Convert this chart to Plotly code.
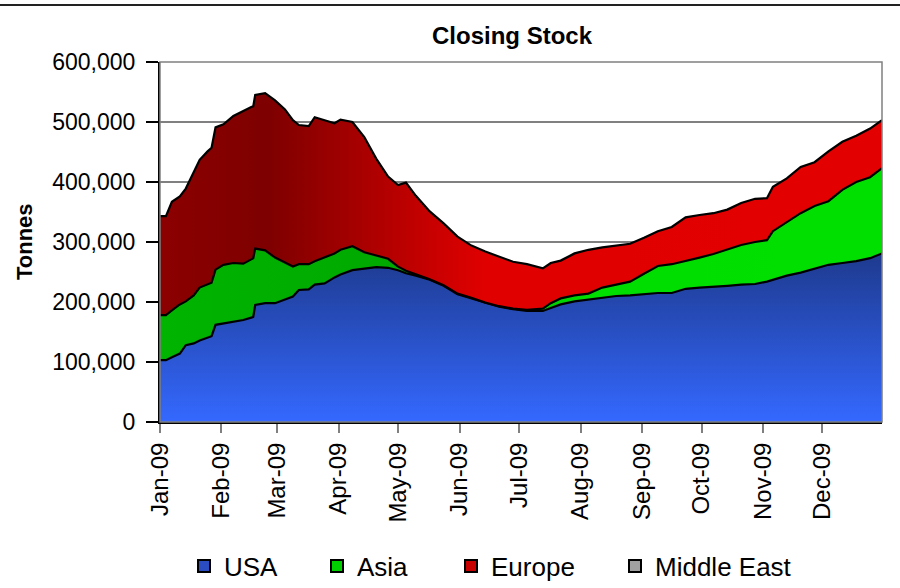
import plotly.graph_objects as go

dates = ["2009-01-01", "2009-01-04", "2009-01-07", "2009-01-11", "2009-01-14", "2009-01-18",
         "2009-01-21", "2009-01-25", "2009-01-27", "2009-01-29", "2009-02-02", "2009-02-07",
         "2009-02-12", "2009-02-16", "2009-02-17", "2009-02-18", "2009-02-23", "2009-02-28",
         "2009-03-05", "2009-03-09", "2009-03-12", "2009-03-17", "2009-03-20", "2009-03-25",
         "2009-03-30", "2009-04-02", "2009-04-08", "2009-04-14", "2009-04-20", "2009-04-26",
         "2009-05-01", "2009-05-05", "2009-05-10", "2009-05-17", "2009-05-24", "2009-05-31",
         "2009-06-07", "2009-06-14", "2009-06-21", "2009-06-28", "2009-07-05", "2009-07-09",
         "2009-07-13", "2009-07-17", "2009-07-22", "2009-07-29", "2009-08-05", "2009-08-12",
         "2009-08-19", "2009-08-26", "2009-09-02", "2009-09-09", "2009-09-16", "2009-09-23",
         "2009-09-30", "2009-10-07", "2009-10-14", "2009-10-21", "2009-10-28", "2009-11-03",
         "2009-11-06", "2009-11-13", "2009-11-20", "2009-11-27", "2009-12-04", "2009-12-11",
         "2009-12-18", "2009-12-25", "2009-12-31"]

usa = [103000, 103000, 108000, 114000, 128000, 131000, 136000, 141000, 143000, 162000,
       164000, 167000, 170000, 174000, 175000, 195000, 198000, 198000, 204000, 209000,
       220000, 221000, 229000, 231000, 241000, 246000, 253000, 255000, 258000, 257000,
       253000, 248000, 244000, 237000, 227000, 213000, 206000, 198000, 192000, 188000,
       185000, 185000, 185000, 190000, 196000, 201000, 204000, 208000, 210000, 211000,
       213000, 215000, 215000, 222000, 224000, 225000, 227000, 229000, 230000, 234000,
       237000, 244000, 249000, 255000, 262000, 265000, 268000, 273000, 281000]

asia = [75000, 75000, 78000, 82000, 73000, 80000, 88000, 89000, 89000, 92000,
        98000, 98000, 94000, 97000, 98000, 94000, 88000, 76000, 61000, 50000,
        43000, 42000, 39000, 43000, 40000, 41000, 40000, 28000, 20000, 15000,
        6000, 4000, 2000, 1000, 1000, 1000, 1000, 1000, 1000, 1000,
        2000, 3000, 4000, 8000, 10000, 10000, 10000, 16000, 19000, 23000,
        34000, 45000, 48000, 46000, 50000, 55000, 61000, 66000, 70000, 69000,
        81000, 89000, 99000, 105000, 106000, 122000, 132000, 135000, 142000]

europe = [165000, 165000, 181000, 180000, 188000, 206000, 213000, 221000, 225000, 237000,
          234000, 245000, 255000, 254000, 253000, 256000, 262000, 262000, 256000, 244000,
          232000, 230000, 240000, 229000, 217000, 217000, 207000, 192000, 161000, 137000,
          136000, 147000, 131000, 113000, 103000, 95000, 87000, 85000, 82000, 78000,
          76000, 71000, 67000, 67000, 63000, 70000, 73000, 67000, 65000, 63000,
          60000, 58000, 62000, 73000, 71000, 68000, 66000, 70000, 72000, 70000,
          74000, 73000, 77000, 73000, 83000, 80000, 77000, 81000, 80000]

middle_east = [0] * len(dates)

series_names = ["USA", "Asia", "Europe", "Middle East"]
month_ticks = ["2009-01-01", "2009-02-01", "2009-03-01", "2009-04-01", "2009-05-01", "2009-06-01",
               "2009-07-01", "2009-08-01", "2009-09-01", "2009-10-01", "2009-11-01", "2009-12-01"]
month_labels = ["Jan-09", "Feb-09", "Mar-09", "Apr-09", "May-09", "Jun-09",
                "Jul-09", "Aug-09", "Sep-09", "Oct-09", "Nov-09", "Dec-09"]
y_ticks = [0, 100000, 200000, 300000, 400000, 500000, 600000]

FONT = "Liberation Sans, Arial, sans-serif"
W, H = 900, 588
L, R, T, B = 160, 18, 62, 166
PW, PH = W - L - R, H - T - B


def px_x(x):
    return (x - L) / PW


def px_y(y):
    return (H - B - y) / PH


fig = go.Figure()

fig.add_trace(go.Scatter(
    x=dates, y=usa, name="USA", stackgroup="s", mode="lines",
    line=dict(color="black", width=2.2),
    fillgradient=dict(type="vertical", colorscale=[[0, "#3468ff"], [1, "#1e3a8e"]]),
    showlegend=False, hoverinfo="x+y"))
fig.add_trace(go.Scatter(
    x=dates, y=asia, name="Asia", stackgroup="s", mode="lines",
    line=dict(color="black", width=2.2),
    fillgradient=dict(type="horizontal", colorscale=[[0, "#00b400"], [0.35, "#00a800"], [0.6, "#00dd00"], [1, "#00e000"]]),
    showlegend=False, hoverinfo="x+y"))
fig.add_trace(go.Scatter(
    x=dates, y=europe, name="Europe", stackgroup="s", mode="lines",
    line=dict(color="black", width=2.2),
    fillgradient=dict(type="horizontal", colorscale=[[0, "#8c0000"], [0.15, "#7e0000"], [0.45, "#e00000"], [1, "#e30000"]]),
    showlegend=False, hoverinfo="x+y"))
fig.add_trace(go.Scatter(
    x=dates, y=middle_east, name="Middle East", stackgroup="s", mode="lines",
    line=dict(color="rgba(0,0,0,0)", width=0), fillcolor="rgba(150,150,150,0.5)",
    showlegend=False, hoverinfo="x+y"))

legend_colors = ["#2a4cc0", "#00d000", "#c80000", "#a0a0a0"]
legend_ids = ["legend", "legend2", "legend3", "legend4"]
legend_left_px = [184, 317, 451, 615]
for name, col, lid in zip(series_names, legend_colors, legend_ids):
    fig.add_trace(go.Scatter(
        x=[None], y=[None], name=name, mode="markers", legend=lid,
        marker=dict(symbol="square", size=15, color=col, line=dict(color="black", width=1.2)),
        showlegend=True))

legend_layout = {}
for lid, lx in zip(legend_ids, legend_left_px):
    legend_layout[lid] = dict(orientation="h", x=px_x(lx), xanchor="left",
                              y=px_y(566), yanchor="middle",
                              font=dict(size=26, family=FONT, color="black"),
                              itemsizing="constant", bgcolor="rgba(0,0,0,0)",
                              borderwidth=0)

# top frame line
fig.add_shape(type="line", xref="paper", yref="paper",
              x0=px_x(0), x1=px_x(W), y0=px_y(5), y1=px_y(5),
              line=dict(color="#222222", width=2))
# plot area border
fig.add_shape(type="rect", xref="paper", yref="paper", x0=0, x1=1, y0=0, y1=1,
              line=dict(color="#808080", width=1.5), layer="above")

fig.add_annotation(text="<b>Tonnes</b>", xref="paper", yref="paper",
                   x=px_x(24), y=0.5, xanchor="center", yanchor="middle",
                   textangle=-90, showarrow=False,
                   font=dict(size=22, family=FONT, color="black"))

fig.update_layout(
    width=W, height=H,
    margin=dict(l=L, r=R, t=T, b=B, autoexpand=False),
    paper_bgcolor="white", plot_bgcolor="white",
    font=dict(family=FONT, color="black", size=24),
    title=dict(text="<b>Closing Stock</b>", x=512 / W, xref="container", xanchor="center",
               y=1 - 36 / H, yref="container", yanchor="middle",
               font=dict(size=24, family=FONT, color="black")),
    xaxis=dict(type="date", range=["2009-01-01", "2009-12-31"], automargin=False,
               tickmode="array", tickvals=month_ticks, ticktext=month_labels,
               tickangle=-90, ticks="outside", ticklen=9, tickcolor="#808080", tickwidth=1.5,
               showline=True, linecolor="black", linewidth=2, showgrid=False,
               tickfont=dict(size=24, family=FONT), zeroline=False),
    yaxis=dict(range=[0, 600000], tickmode="array", tickvals=y_ticks, tickformat=",",
               automargin=False, ticklabelstandoff=6,
               ticks="outside", ticklen=12, tickcolor="black", tickwidth=1.5,
               showline=True, linecolor="black", linewidth=2,
               showgrid=True, gridcolor="#808080", gridwidth=1.5, zeroline=False,
               tickfont=dict(size=23, family=FONT)),
    showlegend=True,
    **legend_layout,
)

fig.write_html("out.html", config={"displayModeBar": False},
               post_script="document.body.style.margin='0';document.body.style.padding='0';")
